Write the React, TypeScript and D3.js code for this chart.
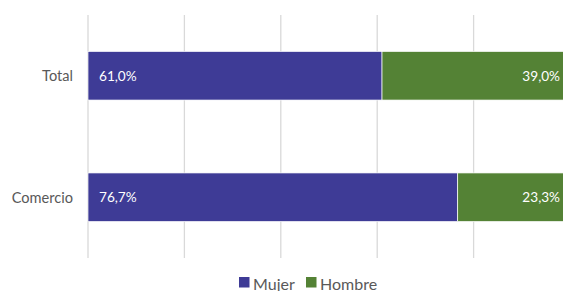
import React from "react";
import * as d3 from "d3";

const categories = ["Total", "Comercio"];
const mujer = [61.0, 76.7];
const hombre = [39.0, 23.3];
const gridTicks = [0, 20, 40, 60, 80, 100];
const seriesNames = ["Mujer", "Hombre"];

const W = 563;
const H = 291;
const FONT = "Lato, 'Open Sans', sans-serif";
const colors = ["#3E3B96", "#548235"];

export default function App() {
  const x = d3.scaleLinear().domain([0, 100]).range([88, 570]);
  const y = d3.scaleBand<string>().domain(categories).range([15, 258]).paddingInner(0.6).paddingOuter(0.3);
  const fmt = (v: number) => v.toFixed(1).replace(".", ",") + "%";

  return (
    <svg width={W} height={H} style={{ position: "absolute", left: 0, top: 0, fontFamily: FONT }}>
      <rect width={W} height={H} fill="#fff" />
      {gridTicks.map((t) => (
        <line key={t} x1={x(t)} x2={x(t)} y1={15} y2={258} stroke="#D9D9D9" strokeWidth={1.3} />
      ))}
      {categories.map((c, i) => {
        const y0 = y(c)!;
        const bw = y.bandwidth();
        const cy = y0 + bw / 2;
        return (
          <g key={c}>
            <rect x={x(0)} y={y0} width={x(mujer[i]) - x(0)} height={bw} fill={colors[0]} stroke="#fff" strokeWidth={0.7} />
            <rect x={x(mujer[i])} y={y0} width={x(mujer[i] + hombre[i]) - x(mujer[i])} height={bw} fill={colors[1]} stroke="#fff" strokeWidth={0.7} />
            <text x={x(0) - 15} y={cy} textAnchor="end" dominantBaseline="central" fontSize={14.6} fill="#595959">{c}</text>
            <text x={x(0) + 11} y={cy} dominantBaseline="central" fontSize={13.6} fill="#fff">{fmt(mujer[i])}</text>
            <text x={x(100) - 10} y={cy} textAnchor="end" dominantBaseline="central" fontSize={13.6} fill="#fff">{fmt(hombre[i])}</text>
          </g>
        );
      })}
      <g>
        <rect x={239} y={277} width={10.5} height={10.5} fill={colors[0]} />
        <text x={253} y={283} dominantBaseline="central" fontSize={16} fill="#595959">{seriesNames[0]}</text>
        <rect x={306} y={277} width={10.5} height={10.5} fill={colors[1]} />
        <text x={320} y={283} dominantBaseline="central" fontSize={16} fill="#595959">{seriesNames[1]}</text>
      </g>
    </svg>
  );
}
